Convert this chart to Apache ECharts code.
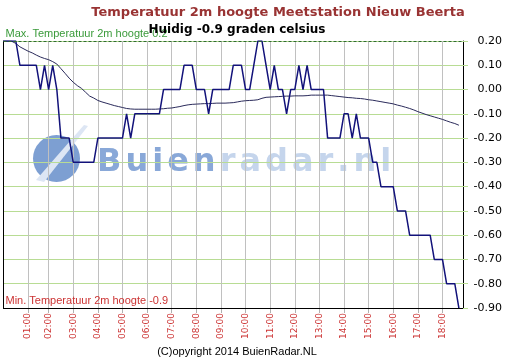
<!DOCTYPE html>
<html>
<head>
<meta charset="utf-8">
<script src="https://cdn.jsdelivr.net/npm/echarts@6/dist/echarts.min.js"></script>
<style>html,body{margin:0;padding:0;background:#fff}#c{width:516px;height:358px}</style>
</head>
<body>
<div id="c"></div>
<script>
// 10-minute categories (one slot missing between 01:00 and 02:00)
const times = [
 "00:00","00:10","00:20","00:30","00:40","00:50",
 "01:00","01:10","01:20","01:30","01:40",
 "02:00","02:10","02:20","02:30","02:40","02:50",
 "03:00","03:10","03:20","03:30","03:40","03:50",
 "04:00","04:10","04:20","04:30","04:40","04:50",
 "05:00","05:10","05:20","05:30","05:40","05:50",
 "06:00","06:10","06:20","06:30","06:40","06:50",
 "07:00","07:10","07:20","07:30","07:40","07:50",
 "08:00","08:10","08:20","08:30","08:40","08:50",
 "09:00","09:10","09:20","09:30","09:40","09:50",
 "10:00","10:10","10:20","10:30","10:40","10:50",
 "11:00","11:10","11:20","11:30","11:40","11:50",
 "12:00","12:10","12:20","12:30","12:40","12:50",
 "13:00","13:10","13:20","13:30","13:40","13:50",
 "14:00","14:10","14:20","14:30","14:40","14:50",
 "15:00","15:10","15:20","15:30","15:40","15:50",
 "16:00","16:10","16:20","16:30","16:40","16:50",
 "17:00","17:10","17:20","17:30","17:40","17:50",
 "18:00","18:10","18:20","18:30","18:40","18:50"
];
// measured temperature
const temperature = [
 0.2,0.2,0.2,0.2,0.1,0.1,0.1,0.1,0.1,0.0,
 0.1,0.0,0.1,0.0,-0.2,-0.2,-0.2,-0.3,-0.3,-0.3,
 -0.3,-0.3,-0.3,-0.2,-0.2,-0.2,-0.2,-0.2,-0.2,-0.2,
 -0.1,-0.2,-0.1,-0.1,-0.1,-0.1,-0.1,-0.1,-0.1,0.0,
 0.0,0.0,0.0,0.0,0.1,0.1,0.1,0.0,0.0,0.0,
 -0.1,0.0,0.0,0.0,0.0,0.0,0.1,0.1,0.1,0.0,
 0.0,0.1,0.2,0.2,0.1,0.0,0.1,0.0,0.0,-0.1,
 0.0,0.0,0.1,0.0,0.1,0.0,0.0,0.0,0.0,-0.2,
 -0.2,-0.2,-0.2,-0.1,-0.1,-0.2,-0.1,-0.2,-0.2,-0.2,
 -0.3,-0.3,-0.4,-0.4,-0.4,-0.4,-0.5,-0.5,-0.5,-0.6,
 -0.6,-0.6,-0.6,-0.6,-0.6,-0.7,-0.7,-0.7,-0.8,-0.8,
 -0.8,-0.9
];
// smooth running-average line
const average = [
 0.200,0.200,0.199,0.190,0.176,0.167,0.158,0.151,0.142,0.134,
 0.128,0.123,0.115,0.105,0.086,0.067,0.047,0.030,0.016,0.005,
 -0.011,-0.027,-0.035,-0.045,-0.051,-0.056,-0.061,-0.066,-0.070,-0.074,
 -0.078,-0.080,-0.081,-0.081,-0.081,-0.081,-0.081,-0.081,-0.080,-0.079,
 -0.077,-0.076,-0.073,-0.070,-0.066,-0.063,-0.061,-0.060,-0.059,-0.058,
 -0.058,-0.057,-0.056,-0.056,-0.056,-0.055,-0.054,-0.051,-0.048,-0.046,
 -0.045,-0.044,-0.042,-0.036,-0.032,-0.031,-0.030,-0.029,-0.028,-0.027,
 -0.027,-0.026,-0.026,-0.026,-0.025,-0.023,-0.023,-0.023,-0.023,-0.023,
 -0.025,-0.027,-0.029,-0.031,-0.033,-0.034,-0.036,-0.037,-0.039,-0.042,
 -0.044,-0.047,-0.050,-0.053,-0.056,-0.059,-0.064,-0.068,-0.073,-0.078,
 -0.084,-0.091,-0.097,-0.103,-0.108,-0.113,-0.118,-0.123,-0.129,-0.135,
 -0.140,-0.147
];
const maxTemp = 0.2;
const minTemp = -0.9;
const currentTemp = -0.9;

const isHour = (idx, val) => idx > 0 && String(val).slice(3) === '00';
const fmt = v => (Math.abs(v) < 1e-9 ? 0 : v).toFixed(2);

// watermark text with letter spacing
const wmA = 'Buien', wmB = 'radar.nl';
const wmText = wmA.split('').map(c => '{a|' + c + '}').join('') + wmB.split('').map(c => '{b|' + c + '}').join('');

const chart = echarts.init(document.getElementById('c'));
chart.setOption({
  animation: false,
  backgroundColor: '#ffffff',
  title: [
    { text: 'Temperatuur 2m hoogte Meetstation Nieuw Beerta', left: 273, top: 1, textAlign: 'center',
      textStyle: { color: '#993333', fontSize: 13, fontWeight: 'bold', fontFamily: 'DejaVu Sans' } },
    { text: 'Huidig ' + currentTemp.toFixed(1) + ' graden celsius', left: 232, top: 19, textAlign: 'center',
      textStyle: { color: '#000000', fontSize: 12, fontWeight: 'bold', fontFamily: 'DejaVu Sans' } },
    { text: '(C)opyright 2014 BuienRadar.NL', left: 232, top: 341, textAlign: 'center',
      textStyle: { color: '#000000', fontSize: 11, fontWeight: 'normal', fontFamily: 'Liberation Sans' } }
  ],
  graphic: [
    { type: 'circle', z: -1, shape: { cx: 56.5, cy: 158.5, r: 23.5 }, style: { fill: '#7d9fd2' } },
    { type: 'polygon', z: -1, shape: { points: [[36, 180], [44, 182], [88, 126], [84, 125]] }, style: { fill: '#dde6f4' } },
    { type: 'text', z: -1, left: 97, top: 147,
      style: { text: wmText, font: 'bold 32px DejaVu Sans',
        rich: {
          a: { fill: '#89a8d8', font: 'bold 32px DejaVu Sans', padding: [0, 4, 0, 0] },
          b: { fill: '#c5d5ec', font: 'bold 32px DejaVu Sans', padding: [0, 4, 0, 0] }
        } } }
  ],
  grid: { left: 3.5, right: 53, top: 41, bottom: 50 },
  xAxis: {
    type: 'category', data: times, boundaryGap: false,
    axisLine: { show: true, onZero: false, lineStyle: { color: '#000000', width: 1 } },
    axisTick: { show: true, interval: isHour, length: 5, lineStyle: { color: '#b0b0b0' } },
    axisLabel: { interval: isHour, rotate: 90, margin: 5, color: '#cc3333', fontSize: 9, fontFamily: 'DejaVu Sans' },
    splitLine: { show: true, interval: isHour, lineStyle: { color: '#c0c0c0', width: 1 } }
  },
  yAxis: [
    { type: 'value', position: 'right', min: -0.9, max: 0.2, interval: 0.1,
      axisLine: { show: true, lineStyle: { color: '#000000' } },
      axisTick: { show: true, length: 5, lineStyle: { color: '#b8dc94' } },
      axisLabel: { formatter: fmt, align: 'right', margin: 39, color: '#000000', fontSize: 11, fontFamily: 'DejaVu Sans' },
      splitLine: { show: true, lineStyle: { color: '#b8dc94', width: 1 } } },
    { type: 'value', position: 'left', min: -0.9, max: 0.2, interval: 0.1,
      axisLine: { show: true, onZero: false, lineStyle: { color: '#000000' } },
      axisTick: { show: false }, axisLabel: { show: false }, splitLine: { show: false } }
  ],
  series: [
    { name: 'gemiddeld', type: 'line', data: average, symbol: 'none', smooth: false, z: 3,
      lineStyle: { color: '#2a2a5a', width: 1 } },
    { name: 'temperatuur', type: 'line', data: temperature, symbol: 'none', z: 4,
      lineStyle: { color: '#12127a', width: 1.5 },
      markLine: {
        symbol: 'none', silent: true,
        data: [
          { yAxis: maxTemp, lineStyle: { color: '#2f6b2f', type: [3, 2], width: 1 },
            label: { show: true, position: 'insideStartTop', distance: [2, 2], formatter: 'Max. Temperatuur 2m hoogte ' + maxTemp,
              color: '#3a9a3a', fontSize: 11, fontFamily: 'Liberation Sans' } },
          { yAxis: minTemp, lineStyle: { color: '#000000', type: 'solid', width: 1 },
            label: { show: true, position: 'insideStartTop', distance: [2, 2], formatter: 'Min. Temperatuur 2m hoogte ' + minTemp,
              color: '#cc3333', fontSize: 11, fontFamily: 'Liberation Sans' } }
        ]
      } }
  ]
});
</script>
</body>
</html>
